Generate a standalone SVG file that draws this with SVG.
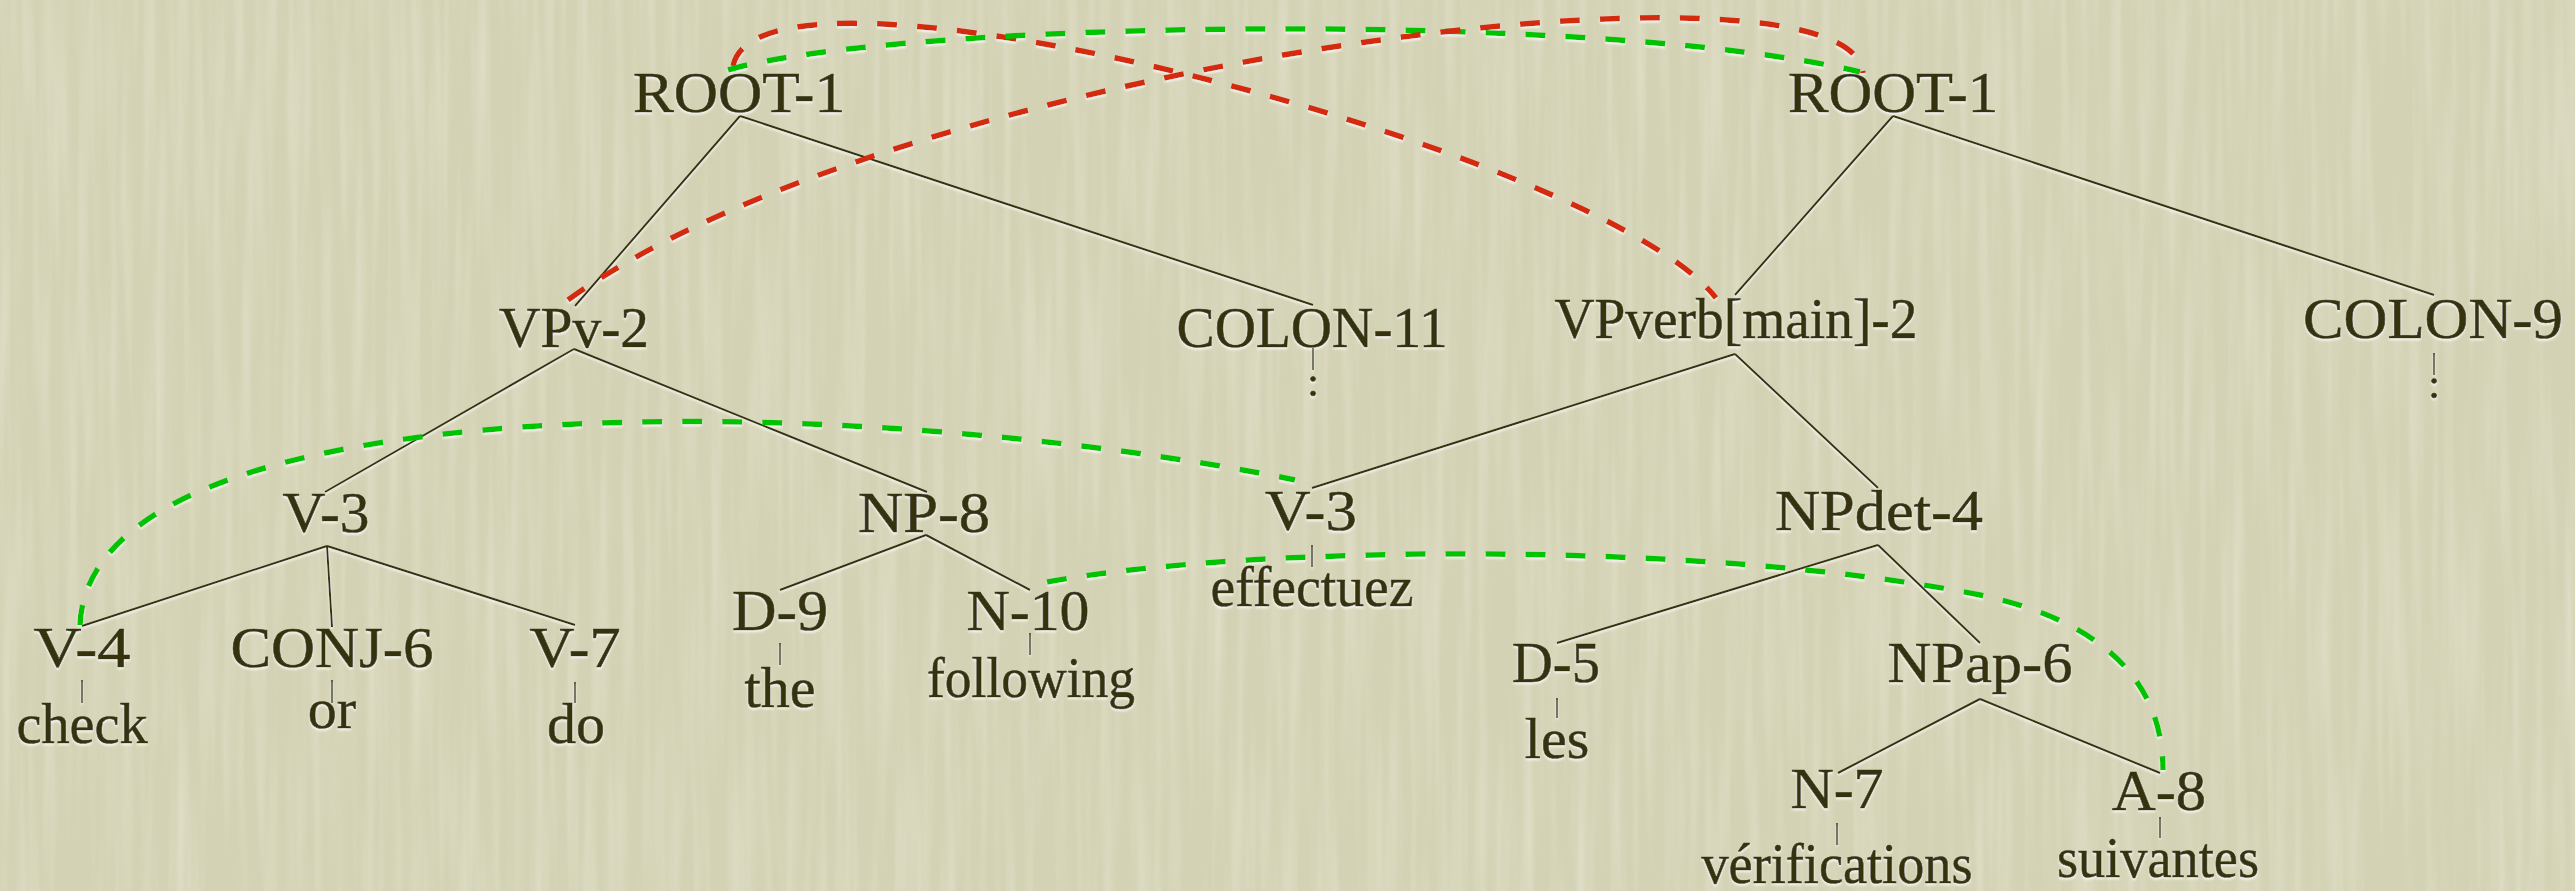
<svg xmlns="http://www.w3.org/2000/svg" width="2575" height="891" viewBox="0 0 2575 891">
<defs>
<filter id="tex" x="0" y="0" width="100%" height="100%">
<feTurbulence type="fractalNoise" baseFrequency="0.09 0.004" numOctaves="2" seed="3" result="n"/>
<feColorMatrix in="n" type="matrix" values="0 0 0 0 1  0 0 0 0 1  0 0 0 0 0.95  0 0 0 0.9 -0.35"/>
</filter>
<filter id="emb" x="-5%" y="-20%" width="110%" height="140%">
<feDropShadow dx="0" dy="2" stdDeviation="1.2" flood-color="#ffffff" flood-opacity="0.75"/>
</filter>
</defs>
<style>
text{font-family:"Liberation Serif","Times New Roman",serif;font-size:58px;fill:#34330a;stroke:#34330a;stroke-width:0.7;text-anchor:middle}
text.c{font-size:42px}
.e{stroke:#34330a;stroke-width:2;fill:none}
.l{stroke:#34330a;stroke-width:1.5;fill:none}
.r{stroke:#d42a08;stroke-width:5.5;fill:none;stroke-dasharray:20 20}
.g{stroke:#00c400;stroke-width:5.5;fill:none;stroke-dasharray:20 20}
</style>
<rect width="2575" height="891" fill="#d3d2b4"/>
<rect width="2575" height="891" filter="url(#tex)" opacity="0.55"/>
<g filter="url(#emb)">
<g id="connectors">
<g id="tree-edges">
<path class="e" d="M740 116L575 306M740 116L1313 305"/>
<path class="e" d="M574 349L325 492M574 349L927 492"/>
<path class="e" d="M327 546L82 626M327 546L332 627M327 546L575 625"/>
<path class="e" d="M926 535L780 590M926 535L1030 590"/>
<path class="e" d="M1893 116L1735 295M1893 116L2434 295"/>
<path class="e" d="M1735 354L1312 488M1735 354L1878 488"/>
<path class="e" d="M1878 545L1557 643M1878 545L1980 643"/>
<path class="e" d="M1980 699L1838 773M1980 699L2160 773"/>
</g>
<g id="leaf-edges">
<path class="l" d="M1313 348V370M2434 353V375M82 680V703M332 680V703M575 682V703M780 643V665M1030 633V655M1312 545V567M1557 698V718M1837 823V845M2160 817V838"/>
</g>
<g id="links">
<path class="r" d="M733 66C760 -70 1600 150 1716 298"/>
<path class="g" d="M728 70C900 20 1600 10 1860 72"/>
<path class="r" d="M568 300C900 60 1850 -60 1863 73"/>
<path class="g" d="M80 625C90 380 850 390 1295 480"/>
<path class="g" d="M1047 582C1250 545 1700 540 1980 595C2100 620 2163 680 2163 770"/>
</g>
</g>
<g id="n-root-en"><text x="739" y="112" textLength="212" lengthAdjust="spacingAndGlyphs">ROOT-1</text></g>
<g id="n-vpv2"><text x="574" y="347" textLength="150" lengthAdjust="spacingAndGlyphs">VPv-2</text></g>
<g id="n-colon11"><text x="1312" y="347" textLength="271" lengthAdjust="spacingAndGlyphs">COLON-11</text><text class="c" x="1313" y="396">:</text></g>
<g id="n-v3-en"><text x="326" y="532" textLength="87" lengthAdjust="spacingAndGlyphs">V-3</text></g>
<g id="n-np8"><text x="924" y="532" textLength="132" lengthAdjust="spacingAndGlyphs">NP-8</text></g>
<g id="n-v4"><text x="82" y="667" textLength="97" lengthAdjust="spacingAndGlyphs">V-4</text><text x="82" y="743" textLength="131" lengthAdjust="spacingAndGlyphs">check</text></g>
<g id="n-conj6"><text x="332" y="667" textLength="203" lengthAdjust="spacingAndGlyphs">CONJ-6</text><text x="332" y="728">or</text></g>
<g id="n-v7"><text x="575" y="667" textLength="91" lengthAdjust="spacingAndGlyphs">V-7</text><text x="576" y="743">do</text></g>
<g id="n-d9"><text x="780" y="630" textLength="96" lengthAdjust="spacingAndGlyphs">D-9</text><text x="780" y="707">the</text></g>
<g id="n-n10"><text x="1028" y="630" textLength="123" lengthAdjust="spacingAndGlyphs">N-10</text><text x="1031" y="697" textLength="208" lengthAdjust="spacingAndGlyphs">following</text></g>
<g id="n-root-fr"><text x="1893" y="112" textLength="210" lengthAdjust="spacingAndGlyphs">ROOT-1</text></g>
<g id="n-vpverb"><text x="1736" y="338" textLength="363" lengthAdjust="spacingAndGlyphs">VPverb[main]-2</text></g>
<g id="n-colon9"><text x="2433" y="338" textLength="260" lengthAdjust="spacingAndGlyphs">COLON-9</text><text class="c" x="2434" y="398">:</text></g>
<g id="n-v3-fr"><text x="1311" y="530" textLength="92" lengthAdjust="spacingAndGlyphs">V-3</text><text x="1312" y="606" textLength="203" lengthAdjust="spacingAndGlyphs">effectuez</text></g>
<g id="n-npdet4"><text x="1879" y="530" textLength="208" lengthAdjust="spacingAndGlyphs">NPdet-4</text></g>
<g id="n-d5"><text x="1556" y="682" textLength="88" lengthAdjust="spacingAndGlyphs">D-5</text><text x="1557" y="758">les</text></g>
<g id="n-npap6"><text x="1980" y="682" textLength="185" lengthAdjust="spacingAndGlyphs">NPap-6</text></g>
<g id="n-n7"><text x="1837" y="808" textLength="93" lengthAdjust="spacingAndGlyphs">N-7</text><text x="1837" y="883" textLength="271" lengthAdjust="spacingAndGlyphs">vérifications</text></g>
<g id="n-a8"><text x="2159" y="810" textLength="94" lengthAdjust="spacingAndGlyphs">A-8</text><text x="2158" y="877" textLength="202" lengthAdjust="spacingAndGlyphs">suivantes</text></g>
</g>
</svg>
